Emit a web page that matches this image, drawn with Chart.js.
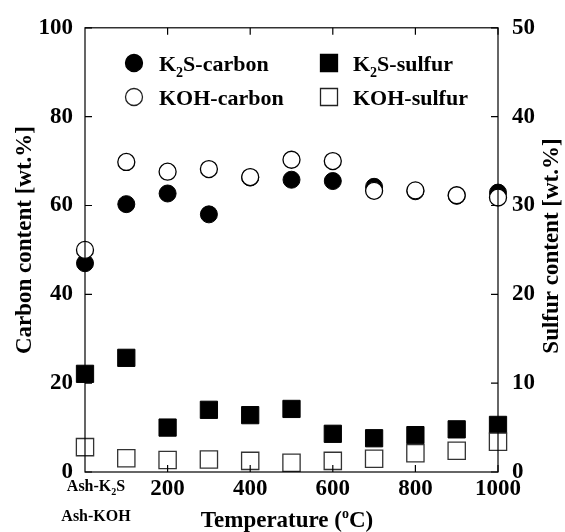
<!DOCTYPE html>
<html>
<head>
<meta charset="utf-8">
<script src="https://cdn.jsdelivr.net/npm/chart.js@4.4.1/dist/chart.umd.min.js"></script>
<style>
  html, body { margin: 0; padding: 0; background: #fff; }
  #wrap { width: 565px; height: 532px; }
</style>
</head>
<body>
<div id="wrap"><canvas id="chart" width="565" height="532"></canvas></div>
<script>
// temperature (0 = ash samples)
const temps = [0, 100, 200, 300, 400, 500, 600, 700, 800, 900, 1000];
// carbon content, left axis [wt.%]
const k2sCarbon = [47.0, 60.3, 62.7, 58.0, 66.3, 65.8, 65.5, 64.2, 63.2, 62.2, 62.9];
const kohCarbon = [50.0, 69.8, 67.6, 68.2, 66.4, 70.3, 70.0, 63.3, 63.4, 62.3, 61.8];
// sulfur content, right axis [wt.%]
const k2sSulfur = [11.05, 12.85, 5.0, 7.0, 6.4, 7.1, 4.3, 3.8, 4.15, 4.8, 5.3];
const kohSulfur = [2.8, 1.55, 1.35, 1.4, 1.25, 1.05, 1.25, 1.5, 2.1, 2.4, 3.4];

const xTicks = [200, 400, 600, 800, 1000];
const leftTicks = [0, 20, 40, 60, 80, 100];
const rightTicks = [0, 10, 20, 30, 40, 50];

const FONT = "'Liberation Serif', 'Times New Roman', serif";

function pts(ys) {
  return temps.map((t, i) => ({ x: t, y: ys[i] }));
}

// draw text pieces with sub/superscripts
function richText(ctx, x, y, parts, size, align) {
  let widths = parts.map(p => {
    ctx.font = 'bold ' + (p.sub || p.sup ? Math.round(size * 0.62) : size) + 'px ' + FONT;
    return ctx.measureText(p.t).width;
  });
  let total = widths.reduce((a, b) => a + b, 0);
  let cx = align === 'center' ? x - total / 2 : x;
  parts.forEach((p, i) => {
    ctx.font = 'bold ' + (p.sub || p.sup ? Math.round(size * 0.62) : size) + 'px ' + FONT;
    let dy = p.sub ? size * 0.28 : (p.sup ? -size * 0.38 : 0);
    ctx.textAlign = 'left';
    ctx.textBaseline = 'alphabetic';
    ctx.fillText(p.t, cx, y + dy);
    cx += widths[i];
  });
}

const extras = {
  id: 'extras',
  afterDraw(chart) {
    const ctx = chart.ctx;
    const a = chart.chartArea;
    const xs = chart.scales.x, yl = chart.scales.y, yr = chart.scales.y2;
    ctx.save();
    ctx.strokeStyle = '#000';
    ctx.fillStyle = '#000';
    ctx.lineWidth = 1.2;
    // frame
    ctx.strokeRect(a.left, a.top, a.right - a.left, a.bottom - a.top);
    // inward ticks
    const tl = 7;
    ctx.beginPath();
    xTicks.forEach(v => {
      const px = xs.getPixelForValue(v);
      ctx.moveTo(px, a.bottom); ctx.lineTo(px, a.bottom - tl);
      ctx.moveTo(px, a.top); ctx.lineTo(px, a.top + tl);
    });
    leftTicks.forEach(v => {
      const py = yl.getPixelForValue(v);
      ctx.moveTo(a.left, py); ctx.lineTo(a.left + tl, py);
    });
    rightTicks.forEach(v => {
      const py = yr.getPixelForValue(v);
      ctx.moveTo(a.right, py); ctx.lineTo(a.right - tl, py);
    });
    ctx.stroke();

    // ash labels under x = 0
    const x0 = xs.getPixelForValue(0) + 11;
    richText(ctx, x0, 491, [{ t: 'Ash-K' }, { t: '2', sub: true }, { t: 'S' }], 16, 'center');
    richText(ctx, x0, 521, [{ t: 'Ash-KOH' }], 16, 'center');

    // x title
    richText(ctx, 287, 527, [{ t: 'Temperature (' }, { t: 'o', sup: true }, { t: 'C)' }], 23, 'center');

    // y titles
    ctx.save();
    ctx.translate(31, 240);
    ctx.rotate(-Math.PI / 2);
    richText(ctx, 0, 0, [{ t: 'Carbon content [wt.%]' }], 23, 'center');
    ctx.restore();
    ctx.save();
    ctx.translate(558, 246);
    ctx.rotate(-Math.PI / 2);
    richText(ctx, 0, 0, [{ t: 'Sulfur content [wt.%]' }], 23, 'center');
    ctx.restore();

    // legend
    const items = [
      { mx: 134, my: 63, shape: 'circle', fill: true, label: [{ t: 'K' }, { t: '2', sub: true }, { t: 'S-carbon' }], tx: 159, ty: 71 },
      { mx: 134, my: 97, shape: 'circle', fill: false, label: [{ t: 'KOH-carbon' }], tx: 159, ty: 105 },
      { mx: 329, my: 63, shape: 'rect', fill: true, label: [{ t: 'K' }, { t: '2', sub: true }, { t: 'S-sulfur' }], tx: 353, ty: 71 },
      { mx: 329, my: 97, shape: 'rect', fill: false, label: [{ t: 'KOH-sulfur' }], tx: 353, ty: 105 }
    ];
    items.forEach(it => {
      ctx.beginPath();
      if (it.shape === 'circle') ctx.arc(it.mx, it.my, 8.5, 0, Math.PI * 2);
      else ctx.rect(it.mx - 8.5, it.my - 8.5, 17, 17);
      ctx.fillStyle = it.fill ? '#000' : '#fff';
      ctx.fill();
      ctx.lineWidth = 1.3;
      ctx.strokeStyle = it.fill ? '#000' : '#222';
      ctx.stroke();
      ctx.fillStyle = '#000';
      richText(ctx, it.tx, it.ty, it.label, 22, 'left');
    });
    ctx.restore();
  }
};

new Chart(document.getElementById('chart'), {
  type: 'scatter',
  data: {
    datasets: [
      { label: 'KOH-carbon', data: pts(kohCarbon), yAxisID: 'y', order: 0,
        pointStyle: 'circle', pointRadius: 8.5, pointBackgroundColor: '#fff',
        pointBorderColor: '#000', pointBorderWidth: 1.3, clip: false },
      { label: 'KOH-sulfur', data: pts(kohSulfur), yAxisID: 'y2', order: 1,
        pointStyle: 'rect', pointRadius: 12.2, pointBackgroundColor: '#fff',
        pointBorderColor: '#333', pointBorderWidth: 1.3, clip: false },
      { label: 'K2S-carbon', data: pts(k2sCarbon), yAxisID: 'y', order: 2,
        pointStyle: 'circle', pointRadius: 8.5, pointBackgroundColor: '#000',
        pointBorderColor: '#000', pointBorderWidth: 1, clip: false },
      { label: 'K2S-sulfur', data: pts(k2sSulfur), yAxisID: 'y2', order: 3,
        pointStyle: 'rect', pointRadius: 12.2, pointBackgroundColor: '#000',
        pointBorderColor: '#000', pointBorderWidth: 1, clip: false }
    ]
  },
  options: {
    responsive: false,
    animation: false,
    layout: { padding: { top: 26, left: 0, right: 0, bottom: 0 } },
    plugins: { legend: { display: false }, tooltip: { enabled: false } },
    scales: {
      x: {
        type: 'linear', min: 0, max: 1000,
        afterFit: s => { s.height = 60; },
        afterBuildTicks: s => { s.ticks = xTicks.map(v => ({ value: v })); },
        grid: { display: false, drawTicks: false },
        border: { display: false },
        ticks: { color: '#000', padding: 3, maxRotation: 0, callback: v => String(v),
          font: { family: FONT, size: 23, weight: 'bold' } }
      },
      y: {
        position: 'left', min: 0, max: 100,
        afterFit: s => { s.width = 85; },
        afterBuildTicks: s => { s.ticks = leftTicks.map(v => ({ value: v })); },
        grid: { display: false, drawTicks: false },
        border: { display: false },
        ticks: { color: '#000', padding: 12, callback: v => String(v),
          font: { family: FONT, size: 23, weight: 'bold' } }
      },
      y2: {
        position: 'right', min: 0, max: 50,
        afterFit: s => { s.width = 67; },
        afterBuildTicks: s => { s.ticks = rightTicks.map(v => ({ value: v })); },
        grid: { display: false, drawTicks: false },
        border: { display: false },
        ticks: { color: '#000', padding: 14, callback: v => String(v),
          font: { family: FONT, size: 23, weight: 'bold' } }
      }
    }
  },
  plugins: [extras]
});
</script>
</body>
</html>
